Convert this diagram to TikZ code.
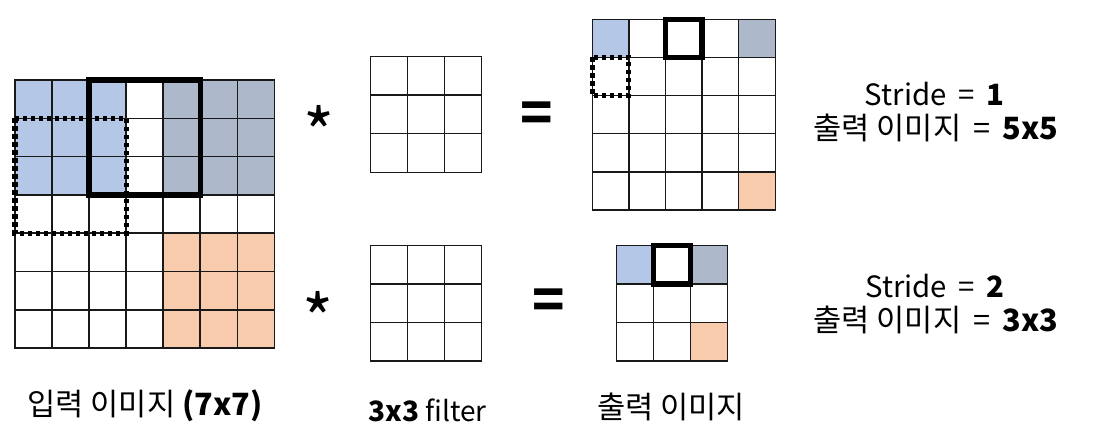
\documentclass[tikz,border=0pt]{standalone}
\usepackage{fontspec}
\setmainfont{Noto Sans CJK KR}
\usetikzlibrary{backgrounds}
\definecolor{cblue}{HTML}{B4C7E7}
\definecolor{cgray}{HTML}{ADB9CA}
\definecolor{corange}{HTML}{F8CBAD}
\newcommand{\eqsp}{\hspace{0.4em}=\hspace{0.4em}}
\begin{document}
\begin{tikzpicture}[x=0.75pt,y=-0.75pt,
  cell/.style={draw=black!90, line width=1.1pt, inner sep=0pt, outer sep=0pt, anchor=north west},
  thickbox/.style={draw=black, line width=4pt},
  dotbox/.style={draw=black, line width=3.8pt, dash pattern=on 3.2pt off 2.8pt},
  lbl/.style={font=\fontsize{23}{27}\selectfont, inner sep=0pt, anchor=base},
  lbls/.style={font=\fontsize{22}{26}\selectfont, inner sep=0pt, anchor=base},
  lblf/.style={font=\fontsize{21}{25}\selectfont, inner sep=0pt, anchor=base},
  opr/.style={inner sep=0pt}]
\useasboundingbox (0,0) rectangle (1094,440);
% input 7x7
\foreach \r in {0,...,6}{\foreach \c in {0,...,6}{
  \node[cell, minimum width=27.78pt, minimum height=28.7pt] (in-\r-\c) at (15+\c*37.04, 80+\r*38.3) {};}}
% filters and 3x3 output
\foreach \r in {0,...,2}{\foreach \c in {0,...,2}{
  \node[cell, minimum width=27.75pt, minimum height=28.9pt] (fa-\r-\c) at (370.7+\c*37, 56.7+\r*38.5) {};
  \node[cell, minimum width=27.75pt, minimum height=28.8pt] (fb-\r-\c) at (370.7+\c*37, 245.7+\r*38.4) {};
  \node[cell, minimum width=27.75pt, minimum height=28.8pt] (oc-\r-\c) at (616.7+\c*37, 245.7+\r*38.4) {};}}
% output 5x5
\foreach \r in {0,...,4}{\foreach \c in {0,...,4}{
  \node[cell, minimum width=27.45pt, minimum height=28.6pt] (ob-\r-\c) at (592.3+\c*36.6, 19.3+\r*38.15) {};}}
\begin{scope}[on background layer]
  \fill[cblue] (in-0-0.north west) rectangle (in-2-2.south east);
  \fill[cgray] (in-0-4.north west) rectangle (in-2-6.south east);
  \fill[corange] (in-4-4.north west) rectangle (in-6-6.south east);
  \fill[cblue] (ob-0-0.north west) rectangle (ob-0-0.south east);
  \fill[cgray] (ob-0-4.north west) rectangle (ob-0-4.south east);
  \fill[corange] (ob-4-4.north west) rectangle (ob-4-4.south east);
  \fill[cblue] (oc-0-0.north west) rectangle (oc-0-0.south east);
  \fill[cgray] (oc-0-2.north west) rectangle (oc-0-2.south east);
  \fill[corange] (oc-2-2.north west) rectangle (oc-2-2.south east);
\end{scope}
% highlight boxes
\draw[thickbox] (in-0-2.north west) rectangle (in-2-4.south east);
\draw[dotbox] (in-1-0.north west) rectangle (in-3-2.south east);
\draw[thickbox] (ob-0-2.north west) rectangle (ob-0-2.south east);
\draw[dotbox] (ob-1-0.north west) rectangle (ob-1-0.south east);
\draw[thickbox] (oc-0-1.north west) rectangle (oc-0-1.south east);
% operators
\node[opr, font=\fontsize{50}{54}\selectfont] (ast1) at (319,132) {*};
\node[opr, font=\fontsize{50}{54}\selectfont] (ast2) at (318,318) {*};
\node[opr, font=\fontsize{40}{44}\selectfont\bfseries] (eq1) at (537,117) {=};
\node[opr, font=\fontsize{40}{44}\selectfont\bfseries] (eq2) at (549,304) {=};
% right labels
\node[lbls] (s1) at (934.5,105) {Stride\eqsp\textbf{1}};
\node[lbl] (o1) at (936,139) {출력 이미지\eqsp\textbf{5x5}};
\node[lbls] (s2) at (935,297) {Stride\eqsp\textbf{2}};
\node[lbl] (o2) at (936,331) {출력 이미지\eqsp\textbf{3x3}};
% bottom labels
\node[lbl] (l1) at (145,415) {입력 이미지 \textbf{(7x7)}};
\node[lblf] (l2) at (427.5,421) {\textbf{3x3} filter};
\node[lbl] (l3) at (671,418) {출력 이미지};
\end{tikzpicture}
\end{document}
